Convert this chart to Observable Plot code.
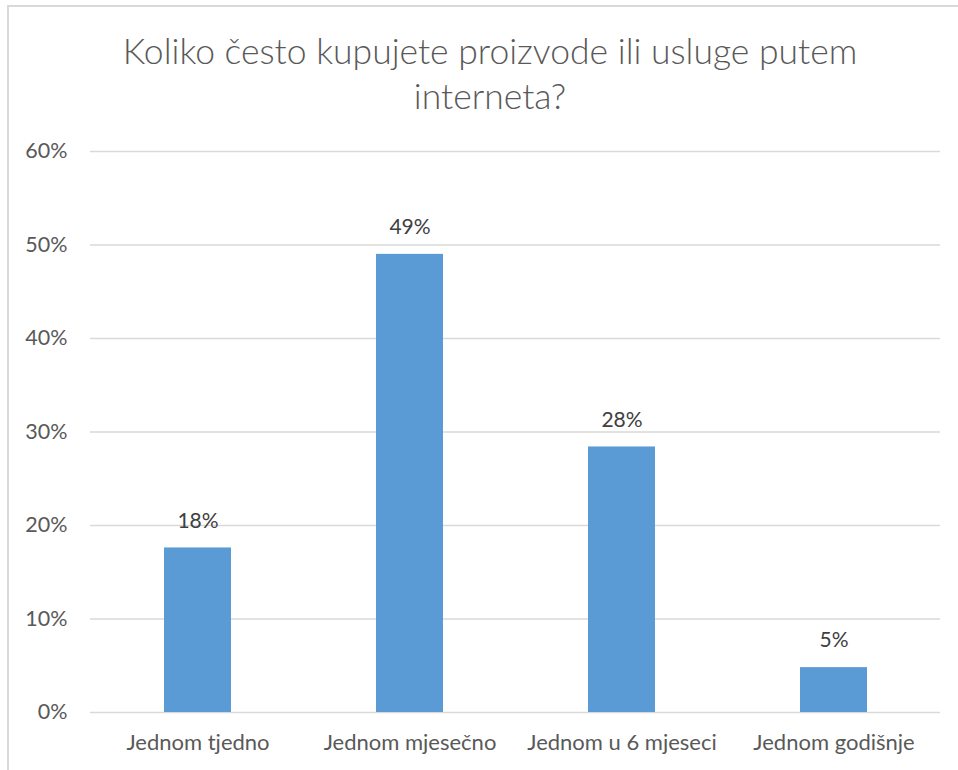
<!DOCTYPE html>
<html>
<head>
<meta charset="utf-8">
<script src="https://cdn.jsdelivr.net/npm/d3@7"></script>
<script src="https://cdn.jsdelivr.net/npm/@observablehq/plot@0.6"></script>
<style>
  html, body { margin: 0; padding: 0; background: #fff; }
  body { width: 958px; height: 770px; position: relative; overflow: hidden; font-family: Lato, "Open Sans", sans-serif; }
  #frame { position: absolute; left: 7px; top: 5px; width: 1000px; height: 800px; border: 2px solid #d9d9d9; box-sizing: border-box; }
  #title { position: absolute; left: 0; top: 28px; width: 980px; text-align: center; font-size: 35.5px; font-weight: 300; line-height: 45px; color: #595959; }
  #chart { position: absolute; left: 0; top: 0; }
</style>
</head>
<body>
<div id="frame"></div>
<div id="chart"></div>
<div id="title">Koliko često kupujete proizvode ili usluge putem<br>interneta?</div>
<script>
const categories = ["Jednom tjedno", "Jednom mjesečno", "Jednom u 6 mjeseci", "Jednom godišnje"];
const values = [0.176, 0.49, 0.284, 0.048];
const yTicks = [0, 0.1, 0.2, 0.3, 0.4, 0.5, 0.6];

const data = categories.map((c, i) => ({category: c, value: values[i]}));
const pct = d3.format(".0%");

const chart = Plot.plot({
  width: 958,
  height: 770,
  marginLeft: 90,
  marginRight: 18,
  marginTop: 151,
  marginBottom: 58,
  style: {fontFamily: "Lato, 'Open Sans', sans-serif", background: "transparent", color: "#595959"},
  x: {domain: categories, paddingInner: 0.685, paddingOuter: 0.3425, label: null},
  y: {domain: [0, 0.6], label: null},
  marks: [
    Plot.ruleY(yTicks, {stroke: "#d9d9d9", strokeWidth: 1.5}),
    Plot.barY(data, {x: "category", y: "value", fill: "#5b9bd5"}),
    Plot.text(data, {x: "category", y: "value", text: d => pct(d.value), dy: -27, fontSize: 21, fill: "#404040"}),
    Plot.axisY({ticks: yTicks, tickFormat: pct, tickSize: 0, tickPadding: 23, fontSize: 21.5, fill: "#595959"}),
    Plot.axisX({tickSize: 0, tickPadding: 22, fontSize: 22, fill: "#595959"})
  ]
});
document.getElementById("chart").appendChild(chart);
</script>
</body>
</html>
